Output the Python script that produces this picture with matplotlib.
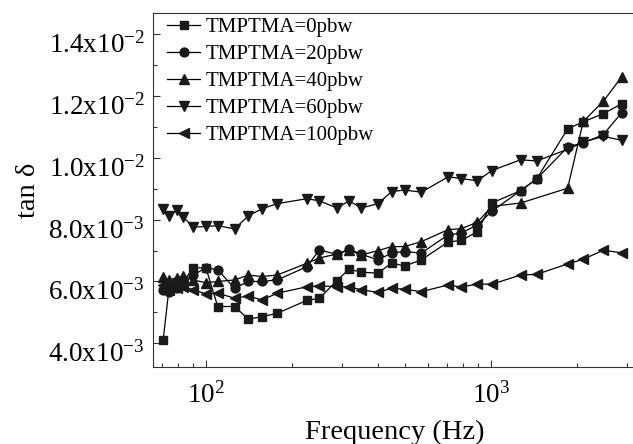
import matplotlib
matplotlib.use("Agg")
import matplotlib.pyplot as plt
import matplotlib.transforms as mtransforms
from matplotlib.ticker import FixedLocator, FixedFormatter, LogLocator, NullFormatter, MultipleLocator
import numpy as np

plt.rcParams["font.family"] = ["Liberation Serif", "DejaVu Serif"]
plt.rcParams["mathtext.default"] = "regular"

# frequency grid (Hz)
freq = [70.8, 74.3, 78.9, 83.3, 90.2, 100, 110, 126, 141, 157, 178, 226, 250,
        288, 318, 351, 402, 448, 498, 570, 708, 787, 897, 1006, 1271, 1447,
        1858, 2108, 2477, 2874]

# tan delta in units of 1e-3
tan_0 = [4.11, 5.83, 5.95, 5.99, 6.44, 6.44, 5.19, 5.19, 4.78, 4.86, 4.97, 5.39,
         5.45, 6.03, 6.40, 6.30, 6.27, 6.60, 6.50, 6.70, 7.28, 7.33, 7.61, 8.54,
         8.94, 9.32, 10.94, 11.17, 11.43, 11.75]
tan_20 = [5.73, 5.66, 5.79, 5.89, 6.21, 6.44, 6.38, 5.78, 6.00, 6.00, 6.05, 6.48,
          7.02, 6.88, 7.05, 6.88, 6.70, 6.92, 6.97, 6.92, 7.51, 7.57, 7.83, 8.27,
          8.94, 9.32, 10.35, 10.49, 10.75, 11.46]
tan_40 = [6.16, 6.05, 6.12, 6.18, 6.05, 5.96, 6.00, 6.05, 6.21, 6.16, 6.21, 6.59,
          6.76, 6.89, 7.02, 6.86, 7.00, 7.13, 7.13, 7.29, 7.68, 7.71, 7.92, 8.43,
          8.54, np.nan, 9.02, 11.18, 11.83, 12.62]
tan_60 = [8.35, 8.13, 8.30, 8.08, 7.76, 7.78, 7.81, 7.70, 8.13, 8.35, 8.52, 8.68,
          8.61, 8.38, 8.61, 8.38, 8.52, 8.91, 8.96, 8.89, 9.39, 9.33, 9.26, 9.59,
          9.94, 9.90, 10.28, 10.51, 10.70, 10.57]
tan_100 = [5.89, 5.73, 5.80, 5.83, 5.73, 5.60, 5.62, 5.46, 5.53, 5.40, 5.62, 5.83,
           5.86, 5.83, 5.83, 5.73, 5.65, 5.78, 5.75, 5.67, 5.89, 5.82, 5.92, 5.91,
           6.21, 6.23, 6.57, 6.72, 7.01, 6.93]

labels = ["TMPTMA=0pbw", "TMPTMA=20pbw", "TMPTMA=40pbw", "TMPTMA=60pbw",
          "TMPTMA=100pbw"]
series = [tan_0, tan_20, tan_40, tan_60, tan_100]
markers = ["s", "o", "^", "v", "<"]
msizes = [5.8, 6.4, 7.2, 7.2, 7.2]

yticks = [4e-3, 6e-3, 8e-3, 1.0e-2, 1.2e-2, 1.4e-2]
ytick_labels = ["4.0x10$^{-3}$", "6.0x10$^{-3}$", "8.0x10$^{-3}$",
                "1.0x10$^{-2}$", "1.2x10$^{-2}$", "1.4x10$^{-2}$"]
xticks = [100, 1000]
xtick_labels = ["10$^{2}$", "10$^{3}$"]

W, H = 633, 444
fig = plt.figure(figsize=(W / 100, H / 100), dpi=100)
ax = fig.add_axes([153 / W, 1 - 367 / H, (636 - 153) / W, (367 - 13.3) / H])

f = np.array(freq)
for vals, lbl, mk, ms in zip(series, labels, markers, msizes):
    v = np.array(vals, dtype=float) * 1e-3
    ok = ~np.isnan(v)
    ax.plot(f[ok], v[ok], color="black", linewidth=0.9, marker=mk,
            markersize=ms, markerfacecolor="#1a1a1a", markeredgecolor="#1a1a1a",
            label=lbl)

ax.set_xscale("log")
ax.set_xlim(65.2, 3228)
ax.set_ylim(3.232e-3, 0.014681)

ax.xaxis.set_major_locator(FixedLocator(xticks))
ax.xaxis.set_major_formatter(FixedFormatter(xtick_labels))
ax.xaxis.set_minor_locator(LogLocator(base=10, subs=np.arange(2, 10)))
ax.xaxis.set_minor_formatter(NullFormatter())
ax.yaxis.set_major_locator(FixedLocator(yticks))
ax.yaxis.set_major_formatter(FixedFormatter(ytick_labels))
ax.yaxis.set_minor_locator(MultipleLocator(1e-3))

ax.tick_params(which="both", direction="in", color="#333333", width=0.8)
ax.tick_params(which="major", length=5)
ax.tick_params(which="minor", length=3)
ax.tick_params(axis="y", labelsize=19.5, pad=6)
ax.tick_params(axis="x", labelsize=19.5, pad=11)
for s in ax.spines.values():
    s.set_linewidth(0.8)
    s.set_color("#333333")

# labels sit a bit below their ticks in the original
off = mtransforms.ScaledTranslation(0, -6 / 72, fig.dpi_scale_trans)
for t in ax.get_yticklabels():
    t.set_transform(t.get_transform() + off)

ax.set_xlabel("Frequency (Hz)", fontsize=20.5, labelpad=8)
ax.set_ylabel("tan δ", fontsize=20.5, labelpad=5)

ax.legend(loc="upper left", bbox_to_anchor=(0.029, 0.988), frameon=False,
          fontsize=15, handlelength=1.6, handletextpad=0.25,
          labelspacing=0.36, borderpad=0, borderaxespad=0)

fig.savefig("out.png", dpi=100)
